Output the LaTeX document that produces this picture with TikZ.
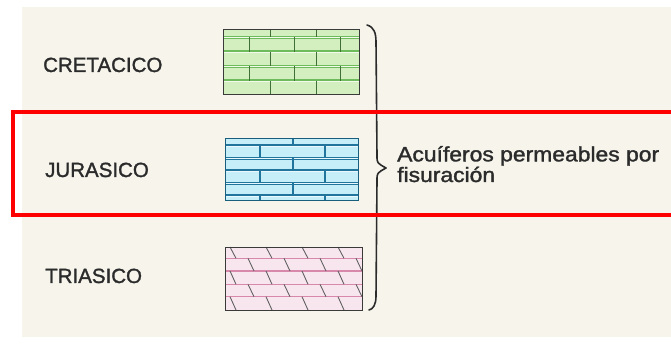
\documentclass[tikz,border=0pt]{standalone}
\usepackage{fontspec}
\setmainfont{Liberation Sans}
\newfontfamily\medfont[FakeBold=1.4]{Liberation Sans}
\usepackage{graphicx}
\definecolor{cream}{HTML}{F6F4EB}
\definecolor{gfill}{HTML}{D3EFC0}
\definecolor{gline}{HTML}{6DBB5A}
\definecolor{bfill}{HTML}{C6EEF9}
\definecolor{bline}{HTML}{21759C}
\definecolor{pfill}{HTML}{F8E6EF}
\definecolor{pline}{HTML}{D889AB}
\definecolor{framec}{HTML}{3A3A3A}
\definecolor{ink}{HTML}{2B2B2B}
\begin{document}
\begin{tikzpicture}[x=1pt,y=-1pt,
  label/.style={anchor=base west, inner sep=0pt, text=ink, font=\medfont\fontsize{20.5}{24}\selectfont},
  desc/.style={anchor=base west, inner sep=0pt, text=ink, align=left, font=\medfont\fontsize{20.8}{18}\selectfont},
  boxframe/.style={draw=framec, line width=1.3pt},
  bracestyle/.style={draw=ink, line width=1.6pt, line cap=round, line join=round},
  hilite/.style={draw=red, line width=4pt}]
\useasboundingbox (0,0) rectangle (671,344);
\fill[white] (0,0) rectangle (671,344);
\fill[cream] (22,7) rectangle (671,337);

% labels
\node[label] (cre) at (43,72) {CRETACICO};
\node[label] (jur) at (45,177) {JURASICO};
\node[label] (tri) at (45,283) {TRIASICO};

% green box (Cretacico)
\begin{scope}
\clip (223,29) rectangle (359,94);
\fill[gfill] (223,29) rectangle (359,94);
\foreach \y in {37.5,52,66.5,81}{
  \draw[gline, line width=3pt] (223,\y) -- (359,\y);
  \draw[white!70!gfill, line width=0.9pt] (223,\y) -- (359,\y);
}
\foreach \t/\b/\xs in {29/37.5/{270,316}, 52/66.5/{270,316}, 81/94/{270,316}}{
  \foreach \x in \xs { \draw[gline!60!black, line width=1pt] (\x,\t) -- (\x,\b); }
}
\foreach \t/\b/\xs in {37.5/52/{249,294,340}, 66.5/81/{249,294,340}}{
  \foreach \x in \xs { \draw[gline!60!black, line width=1pt] (\x,\t) -- (\x,\b); }
}
\end{scope}
\node[boxframe, minimum width=136pt, minimum height=65pt, inner sep=0pt, anchor=north west] (gbox) at (223,29) {};

% blue box (Jurasico)
\begin{scope}
\clip (225,138) rectangle (358,200);
\fill[bfill] (225,138) rectangle (358,200);
\foreach \y in {145.7,158.3,170.7,183.3,195.7}{
  \draw[bline, line width=2.6pt] (225,\y) -- (358,\y);
  \draw[white!60!bfill, line width=0.8pt] (225,\y+0.6) -- (358,\y+0.6);
}
\foreach \t/\b/\xs in {138/145.7/{293}, 158.3/170.7/{293}, 183.3/195.7/{293}}{
  \foreach \x in \xs { \draw[bline, line width=1.4pt] (\x,\t) -- (\x,\b); }
}
\foreach \t/\b/\xs in {145.7/158.3/{260,325}, 170.7/183.3/{260,325}, 195.7/200/{260,325}}{
  \foreach \x in \xs { \draw[bline, line width=1.4pt] (\x,\t) -- (\x,\b); }
}
\end{scope}
\node[draw=bline!80!black, line width=1.4pt, minimum width=133pt, minimum height=62pt, inner sep=0pt, anchor=north west] (bbox) at (225,138) {};

% pink box (Triasico)
\begin{scope}
\clip (225,247) rectangle (362,310);
\fill[pfill] (225,247) rectangle (362,310);
\foreach \y in {258.3,271,284.3,296.7}{
  \draw[pline, line width=1.2pt] (225,\y) -- (362,\y);
}
\foreach \t/\b in {247/258.3, 271/284.3, 296.7/310}{
  \foreach \x in {230,266,302,338}{ \draw[framec!80, line width=0.9pt] (\x,\t) -- (\x+6,\b); }
}
\foreach \t/\b in {258.3/271, 284.3/296.7}{
  \foreach \x in {248,284,320,356}{ \draw[framec!80, line width=0.9pt] (\x,\t) -- (\x+6,\b); }
}
\end{scope}
\node[boxframe, minimum width=137pt, minimum height=63pt, inner sep=0pt, anchor=north west] (pbox) at (225,247) {};

% brace
\coordinate (btop) at (367,25);
\coordinate (btip) at (386,168);
\coordinate (bbot) at (369,310);
\draw[bracestyle] (btop) .. controls (374,27) and (376,33) .. (376,42) -- (377,156)
  .. controls (377,163) .. (btip) .. controls (377,173) .. (377,180) -- (376,296)
  .. controls (376,305) and (373,309) .. (bbot);

% description
\node[desc] (desc) at (397,182) {\scalebox{1.1}[1]{Acuíferos permeables por}\\\scalebox{1.1}[1]{fisuración}};

% red highlight
\draw[hilite] (13,112.5) rectangle (690,215);
\end{tikzpicture}
\end{document}
